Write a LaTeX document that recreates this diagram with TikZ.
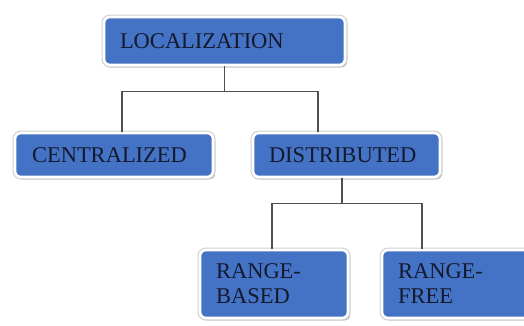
\documentclass[tikz,border=0pt]{standalone}
\usepackage{fontspec}
\setmainfont{Liberation Serif}
\usetikzlibrary{shadows}
\definecolor{boxblue}{HTML}{4472C4}
\definecolor{txt}{HTML}{141A2E}
\definecolor{conn}{HTML}{505050}
\begin{document}
\begin{tikzpicture}[x=1pt,y=-1pt,
  box/.style={rectangle, rounded corners=6pt, fill=boxblue, draw=white, line width=2.6pt,
    drop shadow={shadow xshift=2.2pt, shadow yshift=-2.4pt, fill=black!40, opacity=0.8},
    preaction={draw=black!18, line width=5pt},
    font=\fontsize{22.5}{25}\selectfont, text=txt, align=left, inner ysep=0pt, anchor=center},
  conline/.style={draw=conn, line width=1.4pt}]
\useasboundingbox (0,0) rectangle (524,325);
\node[box, minimum width=241pt, minimum height=48pt, text width=209pt] (loc) at (224.5,41) {LOCALIZATION};
\node[box, minimum width=198pt, minimum height=44pt, text width=164pt] (cen) at (114,155) {CENTRALIZED};
\node[box, minimum width=187pt, minimum height=44pt, text width=155pt] (dis) at (346.5,155) {DISTRIBUTED};
\node[box, minimum width=148pt, minimum height=68pt, text width=116pt] (rb) at (274,284) {RANGE-\\BASED};
\node[box, minimum width=148pt, minimum height=68pt, text width=116pt] (rf) at (456,284) {RANGE-\\FREE};
\draw[conline] (loc.south) -- ++(0,25) coordinate (j1);
\draw[conline] ([xshift=8pt]cen.north) |- (j1) -| ([xshift=-28.5pt]dis.north);
\draw[conline] ([xshift=-4.5pt]dis.south) -- ++(0,25) coordinate (j2);
\draw[conline] ([xshift=-2pt]rb.north) |- (j2) -| ([xshift=-34pt]rf.north);
\end{tikzpicture}
\end{document}
